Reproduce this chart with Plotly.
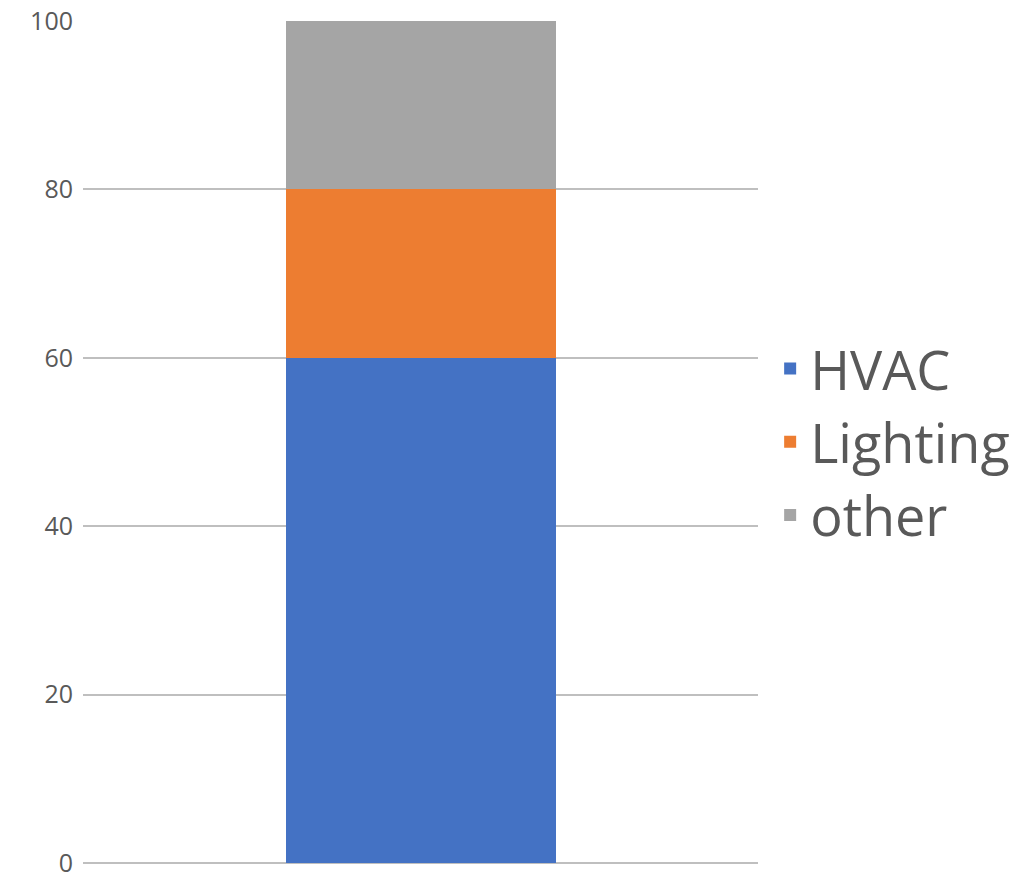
import plotly.graph_objects as go

# Energy use breakdown (percent of total) for one building
category = [""]
series_names = ["HVAC", "Lighting", "other"]
hvac = [60]
lighting = [20]
other = [20]
colors = ["#4472C4", "#ED7D31", "#A5A5A5"]
y_ticks = [0, 20, 40, 60, 80, 100]

fig = go.Figure()
for name, vals, col in zip(series_names, [hvac, lighting, other], colors):
    fig.add_trace(go.Bar(x=category, y=vals, name=name, marker_color=col,
                         marker_line_width=0))

fig.update_layout(
    barmode="stack",
    bargap=0.6,
    width=1020, height=879,
    margin=dict(l=83, r=262, t=21, b=16, autoexpand=False),
    plot_bgcolor="white", paper_bgcolor="white",
    font=dict(family="Open Sans", color="#595959"),
    showlegend=True,
    legend=dict(
        x=1.018, xanchor="left", y=0.5, yanchor="middle",
        font=dict(size=54, color="#595959", family="Open Sans"),
        traceorder="normal", bgcolor="rgba(0,0,0,0)",
    ),
    xaxis=dict(showticklabels=False, showgrid=False, zeroline=False,
               showline=False, fixedrange=True),
    yaxis=dict(range=[0, 100], tickvals=y_ticks, showgrid=True,
               gridcolor="#BFBFBF", gridwidth=2, zeroline=True,
               zerolinecolor="#BFBFBF", zerolinewidth=2, showline=False,
               tickfont=dict(size=25, color="#595959"),
               ticklabelstandoff=9, ticklabeloverflow="allow"),
)

fig.write_html("out.html")
